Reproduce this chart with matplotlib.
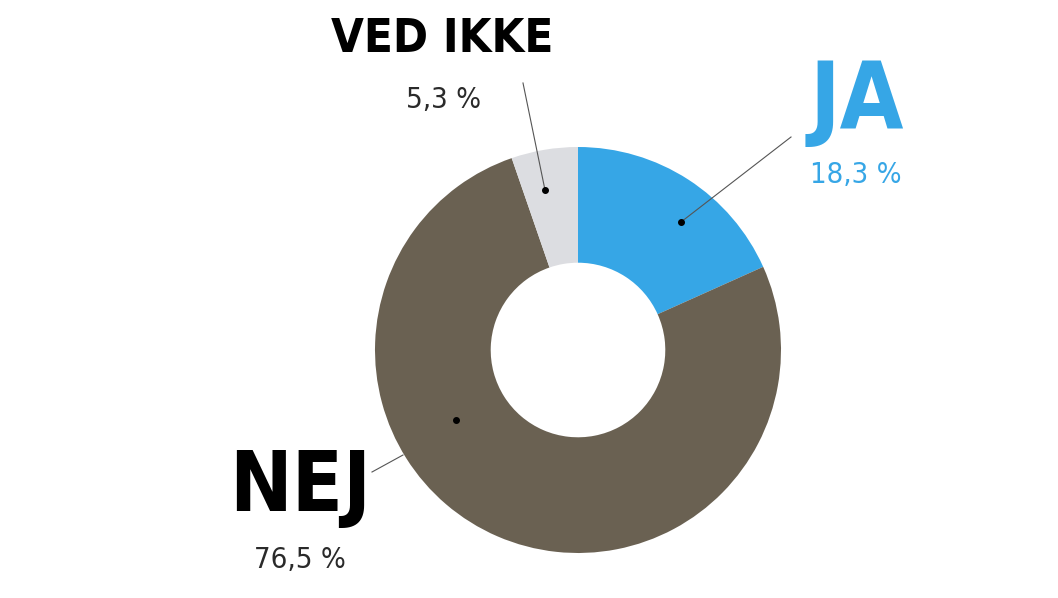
import matplotlib.pyplot as plt

labels = ['JA', 'NEJ', 'VED IKKE']
values = [18.3, 76.5, 5.3]
pct_text = ['18,3 %', '76,5 %', '5,3 %']
colors = ['#36a6e6', '#6a6152', '#dcdde1']
label_colors = ['#36a6e6', '#000000', '#000000']
pct_colors = ['#36a6e6', '#2a2a2a', '#2a2a2a']

H = 598
fig = plt.figure(figsize=(10.58, 5.98), dpi=100)
ax = fig.add_axes([0, 0, 1, 1])

cx, cy, r = 578, H - 350, 203
ax.pie(values, colors=colors, startangle=90, counterclock=False,
       radius=r, center=(cx, cy), frame=True,
       wedgeprops=dict(width=r * 0.57, linewidth=0))
ax.set_xlim(0, 1058)
ax.set_ylim(0, H)
ax.set_aspect('equal')
ax.axis('off')

fam = ['DejaVu Sans']

# label positions (pixel coords from top)
name_pos = [(857, 102), (300, 487), (442, 40)]
pct_pos = [(856, 175), (300, 560), (443, 100)]
lines = [((791, 137), (681, 222)), ((372, 472), (403, 455)), ((523, 83), (545, 190))]
dots = [(681, 222), (456, 420), (545, 190)]
sizes = [66, 60, 34]

for i in range(len(labels)):
    x, y = name_pos[i]
    ax.text(x, H - y, labels[i], fontsize=sizes[i], fontweight='bold',
            family=fam, fontstretch='condensed', color=label_colors[i],
            ha='center', va='center')
    x, y = pct_pos[i]
    ax.text(x, H - y, pct_text[i], fontsize=21, family=fam,
            fontstretch='condensed', color=pct_colors[i],
            ha='center', va='center')
    (x0, y0), (x1, y1) = lines[i]
    ax.plot([x0, x1], [H - y0, H - y1], color='#555555', lw=0.8)
    ax.plot(dots[i][0], H - dots[i][1], 'o', color='black', ms=4)

fig.savefig('out.png', dpi=100)
